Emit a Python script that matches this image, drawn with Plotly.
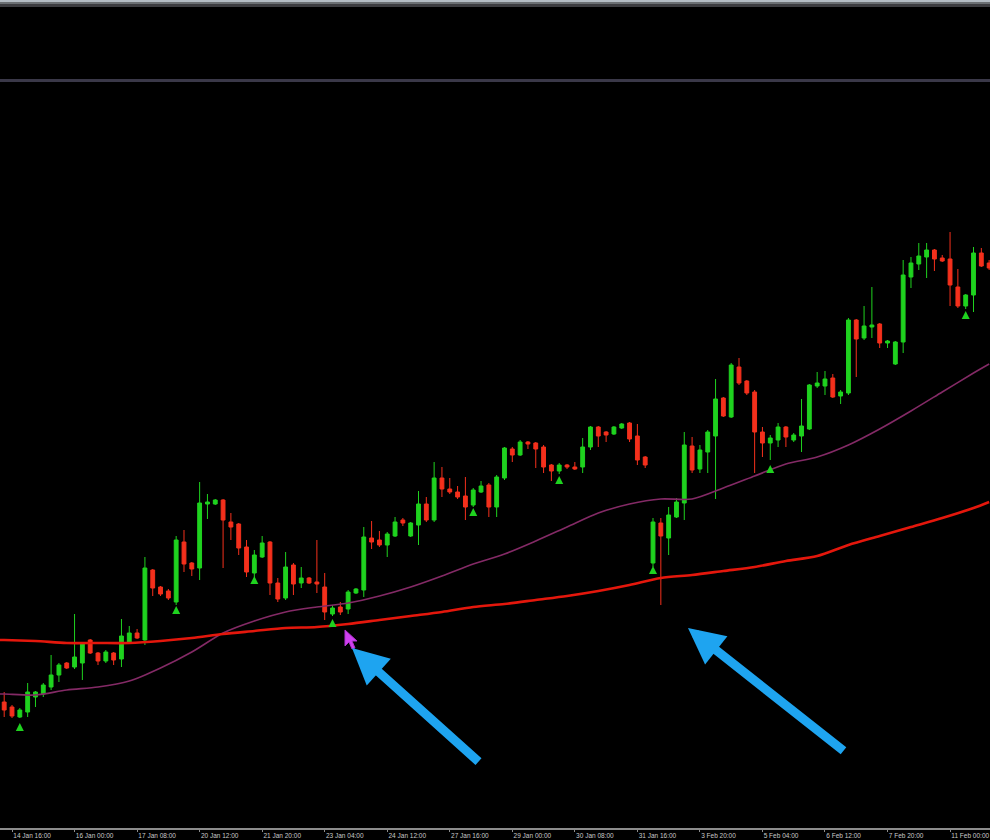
import plotly.graph_objects as go

# ---- data (4h bars, values in points) ----
open_ = [298,293,283,288,303,306,313,325,337,333,
         337,360,347,339,347,341,358,367,360,430,
         413,409,398,458,437,432,496,496,500,478,
         476,453,427,443,458,417,402,435,417,422,
         418,413,386,393,391,407,410,462,460,455,
         464,480,464,475,496,480,522,511,508,504,
         495,508,515,493,522,551,545,558,557,553,
         535,529,535,533,533,553,573,568,566,572,
         577,564,543,437,477,462,483,497,554,531,
         548,564,602,583,633,619,608,568,557,560,
         573,560,564,571,614,614,622,604,607,680,
         662,673,676,657,636,658,723,736,743,750,
         742,741,713,694,705,747,737]
high = [308,295,292,317,309,317,345,337,338,386,
        358,361,348,350,348,381,374,371,443,431,
        414,411,464,470,438,518,506,501,501,487,
        477,460,450,464,459,422,448,437,433,423,
        460,427,395,398,410,412,473,479,469,468,
        483,482,478,509,503,538,533,522,514,523,
        512,519,517,525,553,553,560,559,558,555,
        536,537,536,538,562,574,574,569,574,577,
        578,576,544,482,482,493,502,568,563,555,
        570,621,603,637,642,620,610,573,565,577,
        574,567,601,616,628,629,626,610,682,681,
        694,713,677,660,659,740,743,757,757,751,
        745,768,731,706,753,752,740]
low = [283,282,282,283,293,303,310,318,331,331,
       320,346,335,337,335,333,357,361,355,404,
       404,400,395,428,424,420,481,495,432,460,
       445,423,423,442,405,398,400,405,412,416,
       407,380,384,385,386,406,403,451,453,443,
       463,474,463,455,478,478,503,506,501,480,
       493,507,483,483,520,538,544,551,532,527,
       519,526,531,530,527,550,553,558,565,571,
       558,535,532,433,395,445,482,480,527,527,
       527,501,583,582,615,605,527,543,540,553,
       553,558,548,570,612,605,602,596,605,623,
       660,662,652,652,635,647,712,730,722,729,
       738,694,692,691,688,733,730]
close = [290,284,290,308,308,315,325,335,332,343,
         357,347,339,348,340,364,367,362,432,412,
         406,402,460,436,431,497,498,500,480,473,
         452,428,445,457,417,401,433,416,422,417,
         416,388,392,388,408,411,463,458,455,466,
         478,477,477,496,480,522,511,508,503,493,
         510,514,493,523,552,545,558,556,551,533,
         529,535,533,531,553,573,564,565,573,576,
         561,540,535,478,464,485,498,555,530,550,
         568,601,584,635,617,607,568,557,562,573,
         563,565,574,615,617,621,603,608,680,661,
         674,675,657,659,658,725,737,744,750,741,
         739,715,694,705,747,734,732]

# moving averages sampled every 4 bars (bar -1 = value at the left edge)
ma_bars = [-1,0,4,8,12,16,20,24,28,32,36,40,44,48,52,56,60,64,68,72,76,
           80,84,88,92,96,100,104,108,112,116,120,124,126]
ma_slow = [360,360,359,357,357,357,359,362,366,369,372,373,376,380,384,388,393,396,400,404,409,
           415,422,425,429,433,439,444,455,464,473,482,492,498]
ma_fast = [306,306,305,310,313,319,332,348,367,379,388,393,397,404,413,424,436,446,459,473,487,
           496,501,501,512,524,536,543,555,571,589,608,627,636]

# signal arrows
sig_bars = [2,22,32,42,60,71,83,98,123]
sig_vals = [277,394,424,381,492,524,434,535,689]

tick_bars = [1,9,17,25,33,41,49,57,65,73,81,89,97,105,113,121]
tick_text = ["14 Jan 16:00","16 Jan 00:00","17 Jan 08:00","20 Jan 12:00","21 Jan 20:00",
             "23 Jan 04:00","24 Jan 12:00","27 Jan 16:00","29 Jan 00:00","30 Jan 08:00",
             "31 Jan 16:00","3 Feb 20:00","5 Feb 04:00","6 Feb 12:00","7 Feb 20:00","11 Feb 00:00"]

bars = list(range(len(close)))

W, H = 990, 840
TOP, BOT = 82, 828  # plot area in pixels


def py(p):  # pixel y -> paper y
    return (BOT - p) / (BOT - TOP)


def px(p):  # pixel x -> paper x
    return p / W


fig = go.Figure()
fig.add_trace(go.Scatter(x=ma_bars, y=ma_fast, mode="lines",
                         line=dict(color="#842a66", width=1.6, shape="spline", smoothing=0.8),
                         hoverinfo="skip"))
fig.add_trace(go.Scatter(x=ma_bars, y=ma_slow, mode="lines",
                         line=dict(color="#e4170c", width=2.6, shape="spline", smoothing=0.8),
                         hoverinfo="skip"))
fig.add_trace(go.Candlestick(
    x=bars, open=open_, high=high, low=low, close=close,
    increasing=dict(line=dict(color="#1fd21f", width=1), fillcolor="#1fd21f"),
    decreasing=dict(line=dict(color="#f4301c", width=1), fillcolor="#f4301c"),
    whiskerwidth=0))
fig.add_trace(go.Scatter(x=sig_bars, y=sig_vals, mode="markers",
                         marker=dict(symbol="arrow-up", size=8, color="#1fd21f"),
                         hoverinfo="skip"))

# mouse pointer outline (pixels)
cur = [(345, 630), (345, 646), (349, 642), (352, 649), (355, 648), (352, 641), (357, 641)]
cur_path = "M " + " L ".join(f"{px(a):.5f},{py(b):.5f}" for a, b in cur) + " Z"

shapes = [
    dict(type="rect", xref="paper", yref="paper", x0=0, x1=1, y0=py(2), y1=py(0),
         fillcolor="#b4bcc4", line_width=0, layer="above"),
    dict(type="rect", xref="paper", yref="paper", x0=0, x1=1, y0=py(4), y1=py(2),
         fillcolor="#6c7074", line_width=0, layer="above"),
    dict(type="rect", xref="paper", yref="paper", x0=0, x1=1, y0=py(7), y1=py(4),
         fillcolor="#3c3c40", line_width=0, layer="above"),
    dict(type="rect", xref="paper", yref="paper", x0=0, x1=1, y0=py(82), y1=py(79),
         fillcolor="#3a3848", line_width=0, layer="above"),
    dict(type="path", xref="paper", yref="paper", path=cur_path,
         fillcolor="#d040f0", line=dict(color="#b030d0", width=1), layer="above"),
]

annotations = [
    dict(xref="paper", yref="paper", x=px(352), y=py(648), ax=128, ay=115,
         text="", showarrow=True, arrowhead=2, arrowwidth=9, arrowsize=0.8,
         arrowcolor="#1ea4f0", standoff=0),
    dict(xref="paper", yref="paper", x=px(688), y=py(628), ax=157, ay=124,
         text="", showarrow=True, arrowhead=2, arrowwidth=9, arrowsize=0.8,
         arrowcolor="#1ea4f0", standoff=0),
]

x0 = -4.2 / 7.817
x1 = (W - 4.2) / 7.817
fig.update_layout(
    width=W, height=H,
    paper_bgcolor="#000000", plot_bgcolor="#000000",
    margin=dict(l=0, r=0, t=TOP, b=H - BOT),
    showlegend=False,
    shapes=shapes, annotations=annotations,
    xaxis=dict(range=[x0, x1], rangeslider=dict(visible=False), showgrid=False,
               zeroline=False, showline=True, linecolor="#8c8c8c", linewidth=1.5,
               ticks="outside", ticklen=2, tickcolor="#8c8c8c",
               tickvals=tick_bars, ticktext=tick_text, ticklabelposition="outside right",
               ticklabelstandoff=0, ticklabeloverflow="allow",
               tickfont=dict(family="Liberation Sans, Arial", size=6.5, color="#c8c8c8"),
               automargin=False, fixedrange=True),
    yaxis=dict(range=[1000 - BOT, 1000 - TOP], visible=False, showgrid=False,
               zeroline=False, automargin=False, fixedrange=True),
)

fig.write_html("out.html", config={"displayModeBar": False},
               post_script="document.body.style.margin='0';document.body.style.background='#000';")
